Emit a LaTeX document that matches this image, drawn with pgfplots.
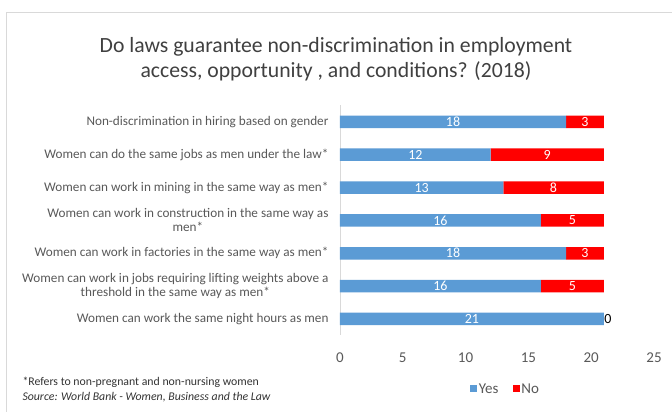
\documentclass[border=0pt]{standalone}
\usepackage{fontspec}
\setmainfont{Carlito}
\usepackage{pgfplots}
\usepackage{pgfplotstable}
\pgfplotsset{compat=1.18}
\definecolor{yesblue}{HTML}{5B9BD5}
\definecolor{nored}{HTML}{FF0000}
\definecolor{txt}{HTML}{595959}
\pgfplotstableread{
idx yes no
0 18 3
1 12 9
2 13 8
3 16 5
4 18 3
5 16 5
6 21 0
}\laws
\begin{document}
\begin{tikzpicture}[x=1pt,y=1pt]
\path[use as bounding box] (0,0) rectangle (672,412);
\fill[white] (0,0) rectangle (672,412);
\draw[gray!30, line width=0.8pt] (6,-10) -- (6,400) -- (690,400);
\node[font=\fontsize{21.7}{25}\selectfont, text=black!75, align=center] at (336,353)
  {Do laws guarantee non-discrimination in employment\\access, opportunity , and conditions? (2018)};
\node[anchor=west, font=\fontsize{11.8}{13}\selectfont, text=black!80] at (19,30)
  {*Refers to non-pregnant and non-nursing women};
\node[anchor=west, font=\fontsize{11.8}{13}\selectfont\itshape, text=black!80] at (19,15)
  {Source: World Bank - Women, Business and the Law};
\begin{axis}[
  at={(340pt,76.6pt)}, anchor=south west,
  scale only axis, width=314pt, height=230pt,
  xbar stacked, bar width=12.5pt,
  xmin=0, xmax=25, ymin=-0.5, ymax=6.5, y dir=reverse,
  clip=false,
  axis x line*=bottom, x axis line style={draw=none},
  axis y line*=left, y axis line style={draw=gray!30, line width=0.8pt},
  xtick={0,5,...,25}, ytick={0,...,6},
  major tick length=0pt,
  /pgf/number format/assume math mode=true,
  xticklabel style={font=\fontsize{15}{17}\selectfont, text=txt, yshift=-14pt},
  yticklabel style={font=\fontsize{13.2}{14}\selectfont, text=txt, align=center, xshift=-8pt},
  yticklabels={
    {Non-discrimination in hiring based on gender},
    {Women can do the same jobs as men under the law*},
    {Women can work in mining in the same way as men*},
    {Women can work in construction in the same way as\\men*},
    {Women can work in factories in the same way as men*},
    {Women can work in jobs requiring lifting weights above a\\threshold in the same way as men*},
    {Women can work the same night hours as men}},
  legend style={at={(0.527,-0.233)}, anchor=center, draw=none, fill=none,
    legend columns=2, font=\fontsize{15}{16}\selectfont, text=txt,
    nodes={inner xsep=1.5pt},
    /tikz/every even column/.append style={column sep=13pt}},
  legend image code/.code={\fill[#1] (0pt,-3.5pt) rectangle (7pt,3.5pt);},
]
\addplot[fill=yesblue, draw=none,
  visualization depends on={\thisrow{yes} \as \yv},
  visualization depends on={\thisrow{no} \as \nz},
  nodes near coords={\makebox[0pt][c]{\pgfmathprintnumber{\yv}}%
    \pgfmathtruncatemacro\iszero{\nz==0}%
    \ifnum\iszero=1
      \pgfmathsetlengthmacro\hh{\yv*6.28pt+0.6pt}%
      \makebox[0pt][l]{\hspace{\hh}\textcolor{black}{\pgfmathprintnumber{\nz}}}%
    \fi},
  every node near coord/.append style={anchor=center, text=white,
    font=\fontsize{14}{16}\selectfont}]
  table[x=yes, y=idx] {\laws};
\addplot[fill=nored, draw=none,
  visualization depends on={\thisrow{no} \as \nv},
  nodes near coords={\pgfmathprintnumber{\nv}},
  every node near coord/.append style={anchor=center, text=white,
    font=\fontsize{14}{16}\selectfont}]
  table[x=no, y=idx] {\laws};
\legend{Yes, No}
\end{axis}
\end{tikzpicture}
\end{document}
